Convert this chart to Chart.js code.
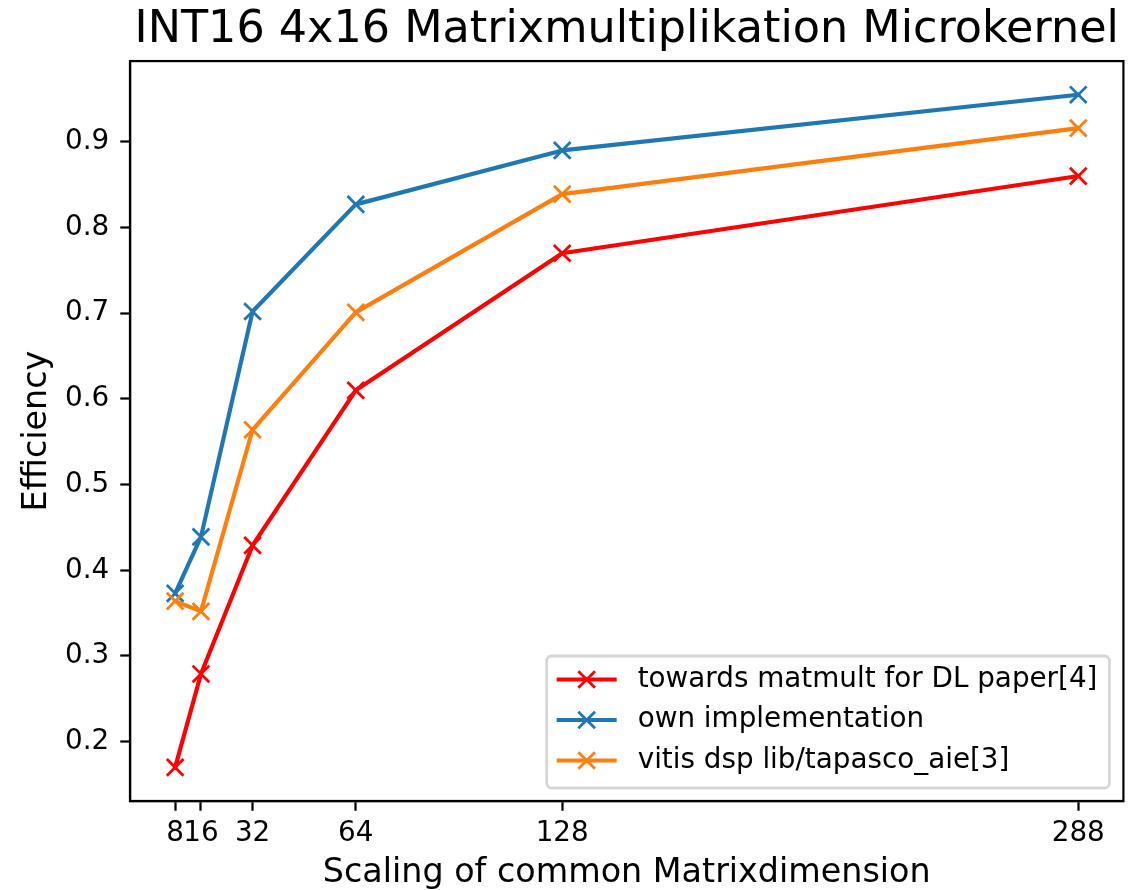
<!DOCTYPE html>
<html>
<head>
<meta charset="utf-8">
<title>INT16 4x16 Matrixmultiplikation Microkernel</title>
<script src="https://cdn.jsdelivr.net/npm/chart.js@4/dist/chart.umd.min.js"></script>
<style>
  html, body { margin: 0; padding: 0; background: #fff; }
  #chart { display: block; }
</style>
</head>
<body>
<canvas id="chart" width="1138" height="890"></canvas>
<script>
// ── Data ────────────────────────────────────
const dims = [8, 16, 32, 64, 128, 288];
const paperEff = [0.170, 0.279, 0.429, 0.610, 0.770, 0.860];
const ownEff = [0.373, 0.439, 0.702, 0.827, 0.890, 0.955];
const vitisEff = [0.364, 0.352, 0.564, 0.701, 0.839, 0.916];
const seriesLabels = [
  'towards matmult for DL paper[4]',
  'own implementation',
  'vitis dsp lib/tapasco_aie[3]',
];
const xTicks = [8, 16, 32, 64, 128, 288];
const yTicks = [0.2, 0.3, 0.4, 0.5, 0.6, 0.7, 0.8, 0.9];

const COLORS = ['#ff0000', '#1f77b4', '#ff7f0e'];
const FONT = "'DejaVu Sans', sans-serif";
const PT = 2.78; // px per point in the reference

// matplotlib style 5% margins
function padRange(lo, hi) {
  const m = (hi - lo) * 0.05;
  return [lo - m, hi + m];
}
const allY = paperEff.concat(ownEff, vitisEff);
const [yMin, yMax] = padRange(Math.min(...allY), Math.max(...allY));
const [xMin, xMax] = padRange(Math.min(...dims), Math.max(...dims));

function toPoints(values) {
  return dims.map((d, i) => ({ x: d, y: values[i] }));
}

function makeDataset(label, values, color, order) {
  return {
    label,
    data: toPoints(values),
    showLine: true,
    borderColor: color,
    backgroundColor: color,
    borderWidth: 1.5 * PT,
    borderJoinStyle: 'round',
    borderCapStyle: 'square',
    pointStyle: 'crossRot',
    pointRadius: 3 * PT * Math.SQRT2,
    pointHoverRadius: 3 * PT * Math.SQRT2,
    pointBorderWidth: PT,
    pointBorderColor: color,
    order,
  };
}

// ── Plugins ────────────────────────────────────
const whiteBg = {
  id: 'whiteBg',
  beforeDraw(chart) {
    const ctx = chart.ctx;
    ctx.save();
    ctx.fillStyle = '#fff';
    ctx.fillRect(0, 0, chart.width, chart.height);
    ctx.restore();
  },
};

const frame = {
  id: 'frame',
  afterDatasetsDraw(chart) {
    const { ctx, chartArea: a } = chart;
    ctx.save();
    ctx.strokeStyle = '#000';
    ctx.lineWidth = 0.8 * PT;
    ctx.strokeRect(a.left, a.top, a.right - a.left, a.bottom - a.top);
    ctx.restore();
  },
};

function drawCross(ctx, x, y, half) {
  ctx.beginPath();
  ctx.moveTo(x - half, y - half); ctx.lineTo(x + half, y + half);
  ctx.moveTo(x - half, y + half); ctx.lineTo(x + half, y - half);
  ctx.stroke();
}

// legend box in the lower right corner, like matplotlib's loc='lower right'
const insideLegend = {
  id: 'insideLegend',
  afterDraw(chart) {
    const { ctx, chartArea: a } = chart;
    const fs = 10 * PT;
    ctx.save();
    ctx.font = fs + 'px ' + FONT;
    const textW = Math.max(...seriesLabels.map(s => ctx.measureText(s).width));
    const right = a.right - 14;
    const bottom = a.bottom - 13;
    const boxH = 132;
    const left = right - (91 + textW + 12);
    const top = bottom - boxH;

    ctx.beginPath();
    ctx.roundRect(left, top, right - left, boxH, 5);
    ctx.fillStyle = 'rgba(255,255,255,0.8)';
    ctx.fill();
    ctx.strokeStyle = '#d6d6d6';
    ctx.lineWidth = PT;
    ctx.stroke();

    seriesLabels.forEach((label, i) => {
      const y = top + 23.5 + i * 40.5;
      ctx.strokeStyle = COLORS[i];
      ctx.lineWidth = 1.5 * PT;
      ctx.lineCap = 'butt';
      ctx.beginPath();
      ctx.moveTo(left + 10, y);
      ctx.lineTo(left + 70, y);
      ctx.stroke();
      ctx.lineWidth = PT;
      drawCross(ctx, left + 40, y, 3 * PT);
      ctx.fillStyle = '#000';
      ctx.textBaseline = 'middle';
      ctx.textAlign = 'left';
      ctx.fillText(label, left + 91, y);
    });
    ctx.restore();
  },
};

// ── Chart ────────────────────────────────────
const tickFont = { family: FONT, size: 10 * PT };
const tickGrid = {
  drawOnChartArea: false,
  drawTicks: true,
  tickLength: 3.5 * PT,
  tickWidth: 0.8 * PT,
  tickColor: '#000',
};

new Chart(document.getElementById('chart'), {
  type: 'scatter',
  data: {
    datasets: [
      makeDataset(seriesLabels[0], paperEff, COLORS[0], 3),
      makeDataset(seriesLabels[1], ownEff, COLORS[1], 2),
      makeDataset(seriesLabels[2], vitisEff, COLORS[2], 1),
    ],
  },
  options: {
    responsive: false,
    devicePixelRatio: 1,
    animation: false,
    events: [],
    layout: { padding: { left: 0, right: 13, top: 0, bottom: 0 } },
    plugins: {
      legend: { display: false },
      tooltip: { enabled: false },
      title: {
        display: true,
        text: 'INT16 4x16 Matrixmultiplikation Microkernel',
        color: '#000',
        fullSize: false,
        font: { family: FONT, size: 16 * PT, weight: 'normal', lineHeight: 1.2 },
        padding: { top: 4, bottom: 3.7 },
      },
    },
    scales: {
      x: {
        type: 'linear',
        min: xMin,
        max: xMax,
        afterBuildTicks(scale) { scale.ticks = xTicks.map(v => ({ value: v })); },
        afterFit(scale) { scale.height = 89; },
        ticks: {
          color: '#000',
          font: tickFont,
          padding: 6,
          autoSkip: false,
          maxRotation: 0,
          callback: v => String(v),
        },
        grid: tickGrid,
        border: { display: true, color: '#000', width: 0.8 * PT },
        title: {
          display: true,
          text: 'Scaling of common Matrixdimension',
          color: '#000',
          font: { family: FONT, size: 12 * PT, lineHeight: 1.0 },
          padding: { top: 0, bottom: 0 },
        },
      },
      y: {
        type: 'linear',
        min: yMin,
        max: yMax,
        afterBuildTicks(scale) { scale.ticks = yTicks.map(v => ({ value: v })); },
        afterFit(scale) { scale.width = 130; },
        ticks: {
          color: '#000',
          font: tickFont,
          padding: 11,
          autoSkip: false,
          callback: v => v.toFixed(1),
        },
        grid: tickGrid,
        border: { display: true, color: '#000', width: 0.8 * PT },
        title: {
          display: true,
          text: 'Efficiency',
          color: '#000',
          font: { family: FONT, size: 12 * PT, lineHeight: 1.15 },
          padding: { top: 18.6, bottom: 0 },
        },
      },
    },
  },
  plugins: [whiteBg, frame, insideLegend],
});
</script>
</body>
</html>
